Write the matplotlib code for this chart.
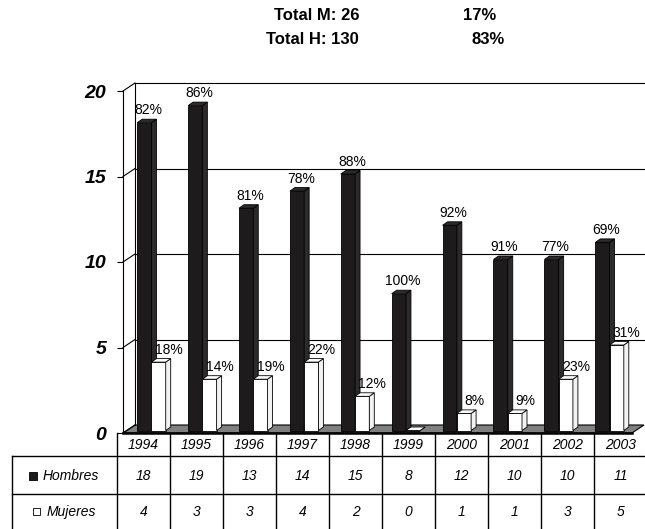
import numpy as np
import matplotlib
matplotlib.use("Agg")
import matplotlib.pyplot as plt
from matplotlib.patches import Polygon, Rectangle

plt.rcParams['font.family'] = ['Liberation Sans', 'DejaVu Sans']

# data
years = ['1994', '1995', '1996', '1997', '1998', '1999', '2000', '2001', '2002', '2003']
hombres = [18, 19, 13, 14, 15, 8, 12, 10, 10, 11]
mujeres = [4, 3, 3, 4, 2, 0, 1, 1, 3, 5]
row_labels = ['Hombres', 'Mujeres']

tot_h = sum(hombres)
tot_m = sum(mujeres)

W, H = 645, 529
fig = plt.figure(figsize=(W / 100, H / 100), dpi=100)

# front plane of the 3D box: x 123..632 px, y=0 at 433 px, 17.1 px per unit
x0_px, x1_px, y0_px, top_px = 123, 632, 433, 60
ppu_x = (x1_px - x0_px) / 10
ppu_y = 17.1
ax = fig.add_axes([x0_px / W, (H - y0_px) / H, (x1_px - x0_px) / W, (y0_px - top_px) / H])
ax.set_xlim(-0.5, 9.5)
ax.set_ylim(0, (y0_px - top_px) / ppu_y)
PX = 1 / ppu_x
PY = 1 / ppu_y

# depth offsets (pixels converted to data units)
wdx, wdy = 12 * PX, 8 * PY      # wall depth
box, boy = 3 * PX, 2.5 * PY     # bar front face offset
bdx, bdy = 5 * PX, 3.5 * PY     # bar depth
bw = 0.28

# floor
ax.add_patch(Polygon([(-0.5, 0), (9.5, 0), (9.5 + wdx, wdy), (-0.5 + wdx, wdy)],
                     closed=True, fc='#808080', ec='black', lw=0.8, clip_on=False, zorder=1))
ax.plot([-0.5, 9.5], [0, 0], color='black', lw=1.8, clip_on=False, zorder=2)

# back wall and side wall
ax.plot([-0.5 + wdx, -0.5 + wdx], [wdy, 20 + wdy], color='black', lw=0.8, clip_on=False)
ax.plot([-0.5 + wdx, 9.5 + wdx], [20 + wdy, 20 + wdy], color='black', lw=0.8, clip_on=False)
for v in [5, 10, 15]:
    ax.plot([-0.5 + wdx, 9.5 + wdx], [v + wdy, v + wdy], color='black', lw=0.8, clip_on=False)
for v in [0, 5, 10, 15, 20]:
    ax.plot([-0.5, -0.5 + wdx], [v, v + wdy], color='black', lw=0.8, clip_on=False)


def draw_bar(xl, v, front, side, top):
    x = xl + box
    y = boy
    xr = x + bw
    ax.add_patch(Polygon([(x, y), (xr, y), (xr, y + v), (x, y + v)], closed=True,
                         fc=front, ec='black', lw=0.6, zorder=3))
    ax.add_patch(Polygon([(xr, y), (xr + bdx, y + bdy), (xr + bdx, y + v + bdy), (xr, y + v)],
                         closed=True, fc=side, ec='black', lw=0.6, zorder=3))
    ax.add_patch(Polygon([(x, y + v), (xr, y + v), (xr + bdx, y + v + bdy), (x + bdx, y + v + bdy)],
                         closed=True, fc=top, ec='black', lw=0.6, zorder=3))


for i in range(len(years)):
    h = hombres[i]
    m = mujeres[i]
    draw_bar(i - bw, h, '#1e1b1c', '#2c2a2b', '#2c2a2b')
    draw_bar(i, m, 'white', '#f2f2f2', 'white')
    tot = h + m
    ax.text(i - bw / 2 + 7 * PX, h + boy + 12.5 * PY, '%d%%' % round(100 * h / tot),
            ha='center', va='center', fontsize=10, zorder=5)
    if m > 0:
        ax.text(i + bw / 2 + box + 10 * PX, m + boy + 12 * PY, '%d%%' % round(100 * m / tot),
                ha='center', va='center', fontsize=10, zorder=5)

# y axis
for s in ['top', 'right', 'bottom']:
    ax.spines[s].set_visible(False)
ax.spines['left'].set_bounds(0, 20)
ax.spines['left'].set_linewidth(0.8)
ax.set_xticks([])
ax.set_yticks([0, 5, 10, 15, 20])
ax.tick_params(axis='y', length=4, width=0.8, pad=8)
for lab in ax.get_yticklabels():
    lab.set_fontsize(14)
    lab.set_fontweight('bold')
    lab.set_fontstyle('italic')
ax.patch.set_alpha(0)

# overlay in pixel coordinates for table and header
ov = fig.add_axes([0, 0, 1, 1], zorder=-1)
ov.set_xlim(0, W)
ov.set_ylim(H, 0)
ov.axis('off')

col_w = 53
tx0 = 117
for y in [456, 494]:
    ov.plot([12, W], [y, y], color='black', lw=1)
ov.plot([12, 12], [456, H], color='black', lw=1)
for k in range(len(years)):
    ov.plot([tx0 + k * col_w] * 2, [433, H], color='black', lw=1)
for k, yr in enumerate(years):
    cx = tx0 + k * col_w + col_w / 2
    ov.text(cx, 445, yr, ha='center', va='center', fontsize=10, style='italic')
    ov.text(cx, 476, str(hombres[k]), ha='center', va='center', fontsize=10, style='italic')
    ov.text(cx, 512, str(mujeres[k]), ha='center', va='center', fontsize=10, style='italic')

ov.add_patch(Rectangle((29, 472), 8, 8, fc='#1e1b1c', ec='black', lw=0.6))
ov.text(43, 476, row_labels[0], ha='left', va='center', fontsize=10, style='italic')
ov.add_patch(Rectangle((33, 508), 7, 7, fc='white', ec='black', lw=0.6))
ov.text(47, 512, row_labels[1], ha='left', va='center', fontsize=10, style='italic')

# header totals
ov.text(359, 15, 'Total M: %d' % tot_m, ha='right', va='center', fontsize=12, fontweight='bold')
ov.text(480, 15, '%d%%' % round(100 * tot_m / (tot_m + tot_h)), ha='center', va='center',
        fontsize=12, fontweight='bold')
ov.text(359, 40, 'Total H: %d' % tot_h, ha='right', va='center', fontsize=12, fontweight='bold')
ov.text(488, 40, '%d%%' % round(100 * tot_h / (tot_m + tot_h)), ha='center', va='center',
        fontsize=12, fontweight='bold')

fig.savefig('out.png', dpi=100)
